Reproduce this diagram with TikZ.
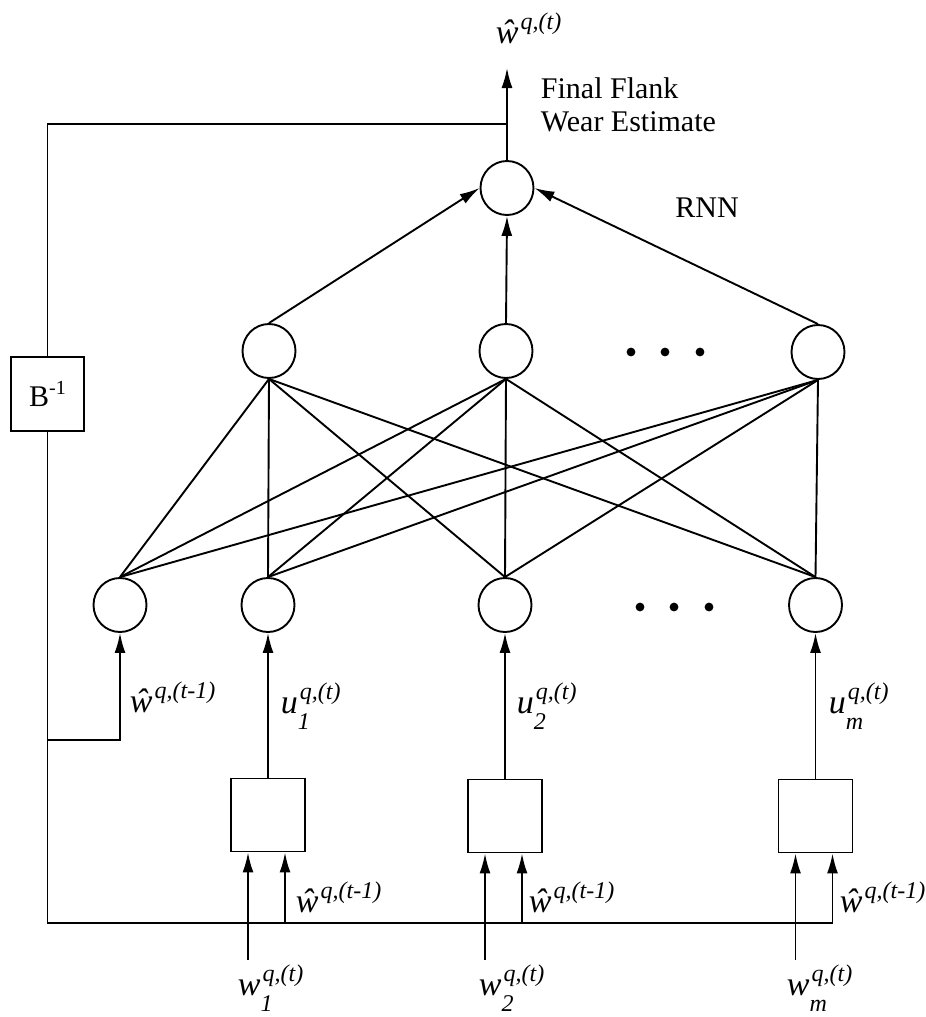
\documentclass[tikz,border=0pt]{standalone}
\usepackage{fontspec}
\setmainfont{Liberation Serif}
\usetikzlibrary{arrows.meta,shapes.geometric}
\newcommand\scrsz{\fontsize{12}{12}\selectfont}
\newcommand\mylbl[3]{\itshape #1\rlap{\raisebox{-8pt}{\scrsz #2}}\kern1pt\raisebox{7pt}{\scrsz #3}}
\begin{document}
\begin{tikzpicture}[x=0.5pt,y=-0.5pt, line width=0.95pt,
  neuron/.style={draw, ellipse, minimum width=26.5pt, minimum height=27pt, inner sep=0pt},
  proc/.style={draw, rectangle, minimum width=37pt, minimum height=36.5pt, inner sep=0pt},
  arr/.style={-{Latex[length=10pt,width=5.5pt]}},
  lab/.style={anchor=base west, inner sep=0pt, font=\fontsize{17}{17}\selectfont},
  txt/.style={font=\fontsize{15}{18}\selectfont, inner sep=0pt}]
\useasboundingbox (0,0) rectangle (926,1017);

% neurons
\node[neuron] (O) at (507,188) {};
\node[neuron] (H1) at (269,351) {};
\node[neuron] (H2) at (506,351) {};
\node[neuron] (H3) at (818,352) {};
\node[neuron] (I1) at (120,605) {};
\node[neuron] (I2) at (268,605) {};
\node[neuron] (I3) at (505,605) {};
\node[neuron] (I4) at (815.5,605) {};

% dots
\foreach \x in {631,665,700} \fill (\x,352) circle[radius=2.2pt];
\foreach \x in {640,674,709} \fill (\x,607) circle[radius=2.2pt];

% processing boxes
\node[proc] (P1) at (268,815) {};
\node[proc] (P2) at (505,816) {};
\node[proc] (P3) at (815.5,816) {};

% delay box
\node[draw, minimum width=36.5pt, minimum height=37pt, inner sep=0pt, txt] (B) at (47.5,394)
  {B\raisebox{6pt}{\fontsize{10}{10}\selectfont -1}};

% output
\coordinate (outtip) at (507,68);
\coordinate (tj) at (507,124);
\draw[arr] (O.north) -- (outtip);
\draw (tj) -| (B.north);

% hidden -> output
\draw[arr] (H1.north) -- (O.west);
\draw[arr] (H2.north) -- (O.south);
\draw[arr] (H3.north) -- (O.east);

% input -> hidden
\foreach \h in {H1,H2,H3}
  \foreach \i in {I1,I2,I3,I4}
    \draw (\h.south) -- (\i.north);

% feedback to first input
\coordinate (fbA) at (47.5,740);
\draw[arr] (fbA) -| (I1.south);

% boxes -> inputs
\draw[arr] (P1.north) -- (I2.south);
\draw[arr] (P2.north) -- (I3.south);
\draw[arr] (P3.north) -- (I4.south);

% bottom feedback line
\coordinate (f1) at (285,923);
\coordinate (f2) at (522,923);
\coordinate (f3) at (832.5,923);
\draw (B.south) |- (f3);
\draw[arr] (f1) -- (f1 |- P1.south);
\draw[arr] (f2) -- (f2 |- P2.south);
\draw[arr] (f3) -- (f3 |- P3.south);

% external inputs
\coordinate (w1s) at (248,960);
\coordinate (w2s) at (485,960);
\coordinate (w3s) at (795.5,960);
\draw[arr] (w1s) -- (w1s |- P1.south);
\draw[arr] (w2s) -- (w2s |- P2.south);
\draw[arr] (w3s) -- (w3s |- P3.south);

% texts
\node[lab] (lo) at (495,43) {\mylbl{\^{w}}{}{q,(t)}};
\node[txt, anchor=base west] (ff1) at (540,98) {Final Flank};
\node[txt, anchor=base west] (ff2) at (540,131) {Wear Estimate};
\node[txt] (rnn) at (707,208) {RNN};

\node[lab] (lfb) at (129,712) {\mylbl{\^{w}}{}{q,(t-1)}};
\node[lab] (lu1) at (280,713) {\mylbl{u}{1}{q,(t)}};
\node[lab] (lu2) at (516,713) {\mylbl{u}{2}{q,(t)}};
\node[lab] (lum) at (828,713) {\mylbl{u}{m}{q,(t)}};

\node[lab] (lb1) at (295,912) {\mylbl{\^{w}}{}{q,(t-1)}};
\node[lab] (lb2) at (528,912) {\mylbl{\^{w}}{}{q,(t-1)}};
\node[lab] (lb3) at (839,912) {\mylbl{\^{w}}{}{q,(t-1)}};

\node[lab] (lw1) at (237,995) {\mylbl{w}{1}{q,(t)}};
\node[lab] (lw2) at (478,995) {\mylbl{w}{2}{q,(t)}};
\node[lab] (lwm) at (786,995) {\mylbl{w}{m}{q,(t)}};
\end{tikzpicture}
\end{document}
